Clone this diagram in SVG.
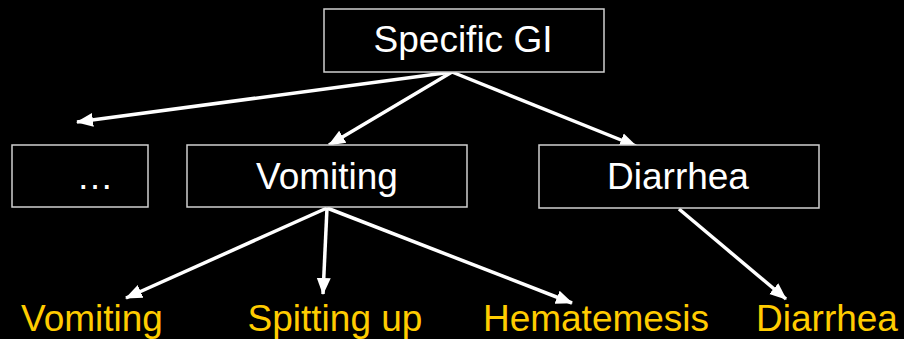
<svg xmlns="http://www.w3.org/2000/svg" width="904" height="339" viewBox="0 0 904 339">
<style>
.box{fill:#000;stroke:#d0d0d0;stroke-width:1.5}
.t{font-family:"Liberation Sans",Arial,sans-serif;font-size:37px;fill:#fff;text-anchor:middle}
.y{font-family:"Liberation Sans",Arial,sans-serif;font-size:37px;fill:#FFCC00;text-anchor:middle}
.c{stroke:#fff;stroke-width:3.5;fill:none;marker-end:url(#ah)}
</style>
<defs>
<marker id="ah" markerUnits="userSpaceOnUse" markerWidth="18" markerHeight="16" refX="16" refY="7" orient="auto" viewBox="0 0 18 14">
<path d="M0,0 L17,7 L0,14 z" fill="#fff"/>
</marker>
</defs>
<rect width="904" height="339" fill="#000"/>
<g id="connectors">
<line class="c" x1="452" y1="72" x2="77" y2="122"/>
<line class="c" x1="452" y1="72" x2="329" y2="145"/>
<line class="c" x1="452" y1="72" x2="636" y2="146"/>
<line class="c" x1="327" y1="208" x2="126" y2="298"/>
<line class="c" x1="327" y1="208" x2="323" y2="294"/>
<line class="c" x1="327" y1="208" x2="572" y2="303"/>
<line class="c" x1="679" y1="209" x2="786" y2="299"/>
</g>
<g id="n-specific"><rect class="box" x="324" y="9" width="280" height="63"/><text class="t" x="463" y="52">Specific GI</text></g>
<g id="n-etc"><rect class="box" x="12" y="145" width="136" height="62"/><text class="t" x="95" y="189">…</text></g>
<g id="n-vomiting"><rect class="box" x="187" y="145" width="280" height="62"/><text class="t" x="327" y="189">Vomiting</text></g>
<g id="n-diarrhea"><rect class="box" x="539" y="145" width="280" height="63"/><text class="t" x="678" y="189">Diarrhea</text></g>
<g id="l-vomiting"><text class="y" x="92" y="331">Vomiting</text></g>
<g id="l-spitting"><text class="y" x="335" y="331">Spitting up</text></g>
<g id="l-hematemesis"><text class="y" x="596" y="331">Hematemesis</text></g>
<g id="l-diarrhea"><text class="y" x="827" y="331">Diarrhea</text></g>
</svg>
